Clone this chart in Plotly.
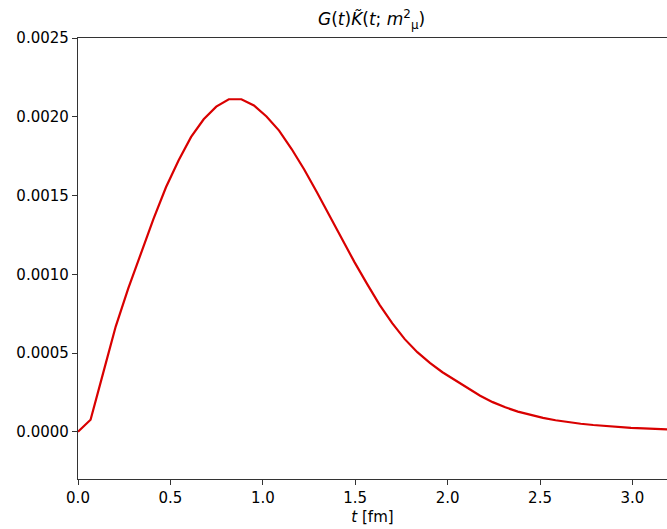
import plotly.graph_objects as go

a = 0.068
k_index = list(range(48))
t_fm = [a * k for k in k_index]
gk_values = [
    0.0, 0.000076, 0.000372, 0.000668, 0.000910, 0.001135, 0.001350, 0.001552,
    0.001722, 0.001872, 0.001984, 0.002064, 0.002111, 0.002111, 0.002072, 0.002002,
    0.001912, 0.001795, 0.001665, 0.001522, 0.001372, 0.001222, 0.001077, 0.000939,
    0.000806, 0.000690, 0.000588, 0.000505, 0.000437, 0.000378, 0.000327, 0.000276,
    0.000229, 0.000188, 0.000155, 0.000128, 0.000106, 0.000088, 0.000073, 0.000061,
    0.000051, 0.000043, 0.000036, 0.000030, 0.000025, 0.000021, 0.000018, 0.000015,
]
x_ticks = [0.0, 0.5, 1.0, 1.5, 2.0, 2.5, 3.0]
y_ticks = [0.0, 0.0005, 0.0010, 0.0015, 0.0020, 0.0025]

fig = go.Figure()
fig.add_trace(go.Scatter(x=t_fm, y=gk_values, mode="lines",
                         line=dict(color="#d90000", width=2.2), showlegend=False))

axis_font = dict(family="DejaVu Sans", size=15, color="#000000")
fig.update_layout(
    width=667, height=529,
    margin=dict(l=78, r=0, t=38, b=50),
    plot_bgcolor="white", paper_bgcolor="white",
    font=axis_font,
    xaxis=dict(range=[0, 3.187], tickvals=x_ticks, ticktext=[f"{v:.1f}" for v in x_ticks],
               showgrid=False, zeroline=False, showline=True, linecolor="#333333", linewidth=1.3,
               mirror=True, ticks="outside", ticklen=5, tickcolor="#333333", tickwidth=1.2,
               title=dict(text="<i>t</i> [fm]", font=axis_font, standoff=5)),
    yaxis=dict(range=[-0.0003, 0.0025], tickvals=y_ticks, ticktext=[f"{v:.4f}" for v in y_ticks],
               showgrid=False, zeroline=False, showline=True, linecolor="#333333", linewidth=1.3,
               mirror=False, ticks="outside", ticklen=5, tickcolor="#333333", tickwidth=1.2),
)
fig.add_annotation(
    text="<i>G</i>(<i>t</i>)<i>K̃</i>(<i>t</i>; <i>m</i><sup>2</sup><sub>μ</sub>)",
    xref="paper", yref="paper", x=0.498, y=1.0, yshift=4,
    xanchor="center", yanchor="bottom", showarrow=False,
    font=dict(family="DejaVu Sans", size=17, color="#000000"),
)
fig.write_html("out.html")
